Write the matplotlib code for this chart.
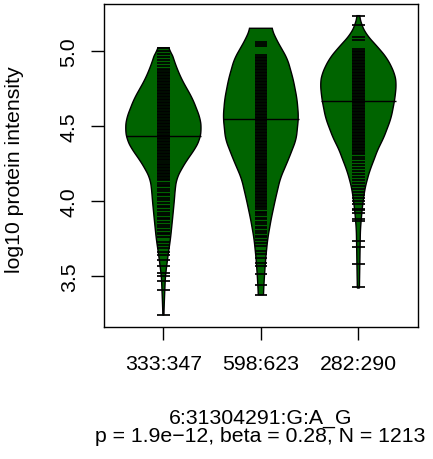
import numpy as np
import matplotlib
matplotlib.use("Agg")
from matplotlib import pyplot as plt

plt.rcParams['font.family'] = ['Liberation Sans', 'DejaVu Sans']

# genotype groups (counts shown as tick labels)
group_labels = ["333:347", "598:623", "282:290"]
centre_lines = [4.434, 4.549, 4.666]

# bean outlines: level and relative half-width
g1_levels = [3.243, 3.35, 3.50, 3.635, 3.75, 3.88, 4.01, 4.08, 4.15, 4.21, 4.28,
             4.345, 4.41, 4.48, 4.55, 4.68, 4.81, 4.90, 5.00, 5.02]
g1_width = [0.013, 0.027, 0.053, 0.12, 0.187, 0.24, 0.29, 0.31, 0.35, 0.47, 0.64,
            0.83, 0.96, 1.0, 0.97, 0.77, 0.48, 0.33, 0.2, 0.10]

g2_levels = [3.378, 3.48, 3.615, 3.75, 3.88, 4.01, 4.15, 4.28, 4.41, 4.56, 4.68,
             4.81, 4.945, 5.078, 5.149]
g2_width = [0.067, 0.088, 0.125, 0.18, 0.27, 0.38, 0.51, 0.73, 0.93, 0.99, 0.95,
            0.85, 0.70, 0.40, 0.28]

g3_levels = [3.422, 3.615, 3.81, 3.95, 4.08, 4.15, 4.21, 4.28, 4.35, 4.41, 4.55,
             4.68, 4.78, 4.845, 4.945, 5.01, 5.11, 5.176, 5.233]
g3_width = [0.027, 0.04, 0.053, 0.10, 0.17, 0.24, 0.31, 0.42, 0.52, 0.65, 0.86,
            0.96, 1.0, 0.96, 0.77, 0.56, 0.2, 0.08, 0.027]

g1_values = [3.243, 3.409, 3.469, 3.50, 3.52, 3.57, 3.61, 3.64, 3.66, 3.69, 3.71,
             3.73, 3.76, 3.78, 3.79, 3.81, 3.83, 3.84, 3.86, 3.88, 3.89, 3.91,
             3.92, 3.94, 3.96, 3.97, 3.99, 4.01, 4.02, 4.04, 4.05, 4.07, 4.08,
             4.10, 4.11, 4.12, 4.14, 4.15, 4.16, 4.17, 4.18, 4.19, 4.20, 4.21,
             4.22, 4.23, 4.24, 4.25, 4.26, 4.27, 4.28, 4.29, 4.30, 4.31, 4.32,
             4.33, 4.34, 4.35, 4.36, 4.37, 4.38, 4.39, 4.40, 4.41, 4.42, 4.43,
             4.44, 4.45, 4.46, 4.47, 4.48, 4.49, 4.50, 4.51, 4.52, 4.53, 4.54,
             4.55, 4.56, 4.57, 4.58, 4.59, 4.60, 4.61, 4.62, 4.63, 4.64, 4.65,
             4.66, 4.67, 4.68, 4.69, 4.70, 4.71, 4.72, 4.73, 4.74, 4.75, 4.76,
             4.77, 4.78, 4.79, 4.80, 4.81, 4.82, 4.83, 4.84, 4.85, 4.86, 4.87,
             4.88, 4.90, 4.92, 4.94, 4.96, 4.98, 5.00, 5.02]

g2_values = [3.378, 3.44, 3.515, 3.57, 3.59, 3.62, 3.65, 3.67, 3.70, 3.72, 3.74,
             3.76, 3.77, 3.79, 3.80, 3.82, 3.83, 3.85, 3.86, 3.88, 3.89, 3.91,
             3.92, 3.93, 3.95, 3.96, 3.97, 3.98, 3.99, 4.00, 4.01, 4.02, 4.03,
             4.04, 4.05, 4.06, 4.07, 4.08, 4.09, 4.10, 4.11, 4.12, 4.13, 4.14,
             4.15, 4.16, 4.17, 4.18, 4.19, 4.20, 4.21, 4.22, 4.23, 4.24, 4.25,
             4.26, 4.27, 4.28, 4.29, 4.30, 4.31, 4.32, 4.33, 4.34, 4.35, 4.36,
             4.37, 4.38, 4.39, 4.40, 4.41, 4.42, 4.43, 4.44, 4.45, 4.46, 4.47,
             4.48, 4.49, 4.50, 4.51, 4.52, 4.53, 4.54, 4.55, 4.56, 4.57, 4.58,
             4.59, 4.60, 4.61, 4.62, 4.63, 4.64, 4.65, 4.66, 4.67, 4.68, 4.69,
             4.70, 4.71, 4.72, 4.73, 4.74, 4.75, 4.76, 4.77, 4.78, 4.79, 4.80,
             4.81, 4.82, 4.83, 4.84, 4.85, 4.86, 4.87, 4.88, 4.89, 4.90, 4.91,
             4.92, 4.93, 4.94, 4.95, 4.96, 4.97, 5.03, 5.045, 5.06]

g3_values = [3.427, 3.58, 3.697, 3.737, 3.87, 3.88, 3.92, 3.94, 3.95, 3.98, 4.00,
             4.02, 4.04, 4.06, 4.08, 4.10, 4.12, 4.14, 4.16, 4.18, 4.20, 4.22,
             4.24, 4.26, 4.28, 4.29, 4.31, 4.32, 4.33, 4.34, 4.35, 4.36, 4.37,
             4.38, 4.39, 4.40, 4.41, 4.42, 4.43, 4.44, 4.45, 4.46, 4.47, 4.48,
             4.49, 4.50, 4.51, 4.52, 4.53, 4.54, 4.55, 4.56, 4.57, 4.58, 4.59,
             4.60, 4.61, 4.62, 4.63, 4.64, 4.65, 4.66, 4.67, 4.68, 4.69, 4.70,
             4.71, 4.72, 4.73, 4.74, 4.75, 4.76, 4.77, 4.78, 4.79, 4.80, 4.81,
             4.82, 4.83, 4.84, 4.85, 4.86, 4.87, 4.88, 4.89, 4.90, 4.91, 4.92,
             4.93, 4.94, 4.95, 4.96, 4.97, 4.98, 4.99, 5.00, 5.01, 5.07, 5.09,
             5.17, 5.233]

title_lines = ["6:31304291:G:A_G", "p = 1.9e\u221212, beta = 0.28, N = 1213"]


def draw_bean(ax, pos, levels, widths, values, centre, maxwidth=0.39):
    y = np.linspace(levels[0], levels[-1], 300)
    w = np.interp(y, levels, widths)
    # light smoothing of the outline
    k = np.ones(15) / 15
    wp = np.pad(w, 7, mode='edge')
    w = np.convolve(wp, k, mode='valid') * maxwidth
    xs = np.concatenate([pos - w, (pos + w)[::-1]])
    ys = np.concatenate([y, y[::-1]])
    ax.fill(xs, ys, facecolor='#006400', edgecolor='black', linewidth=1.0, zorder=2)
    ax.hlines(values, pos - 0.063, pos + 0.063, colors='black', linewidth=1.25,
              zorder=3)
    ax.hlines(centre, pos - maxwidth * 0.99, pos + maxwidth * 0.99, colors='black',
              linewidth=1.0, zorder=4)


def main():
    fig = plt.figure(figsize=(4.33, 4.6), dpi=100)
    ax = fig.add_axes([0.240, 0.2876, 0.725, 0.7014])

    draw_bean(ax, 1, g1_levels, g1_width, g1_values, centre_lines[0])
    draw_bean(ax, 2, g2_levels, g2_width, g2_values, centre_lines[1])
    draw_bean(ax, 3, g3_levels, g3_width, g3_values, centre_lines[2])

    ax.set_xlim(0.39, 3.61)
    ax.set_ylim(3.165, 5.31)

    fs = 15.3
    ax.set_xticks([1, 2, 3])
    ax.set_xticklabels(group_labels)
    ax.set_yticks([3.5, 4.0, 4.5, 5.0])
    ax.set_yticklabels(["3.5", "4.0", "4.5", "5.0"], rotation=90, va='center')
    ax.tick_params(direction='out', length=9.7, width=1.0, labelsize=fs)
    ax.tick_params(axis='x', pad=10.0)
    ax.tick_params(axis='y', pad=8.5)
    for s in ax.spines.values():
        s.set_linewidth(1.0)

    ax.set_ylabel("log10 protein intensity", fontsize=fs)
    ax.yaxis.set_label_coords(-0.255, 0.49)

    fig.text(0.601, 0.0783, title_lines[0], ha='center', va='baseline', fontsize=fs)
    fig.text(0.601, 0.0398, title_lines[1], ha='center', va='baseline', fontsize=fs)

    fig.savefig("out.png", dpi=100)


if __name__ == '__main__':
    main()
